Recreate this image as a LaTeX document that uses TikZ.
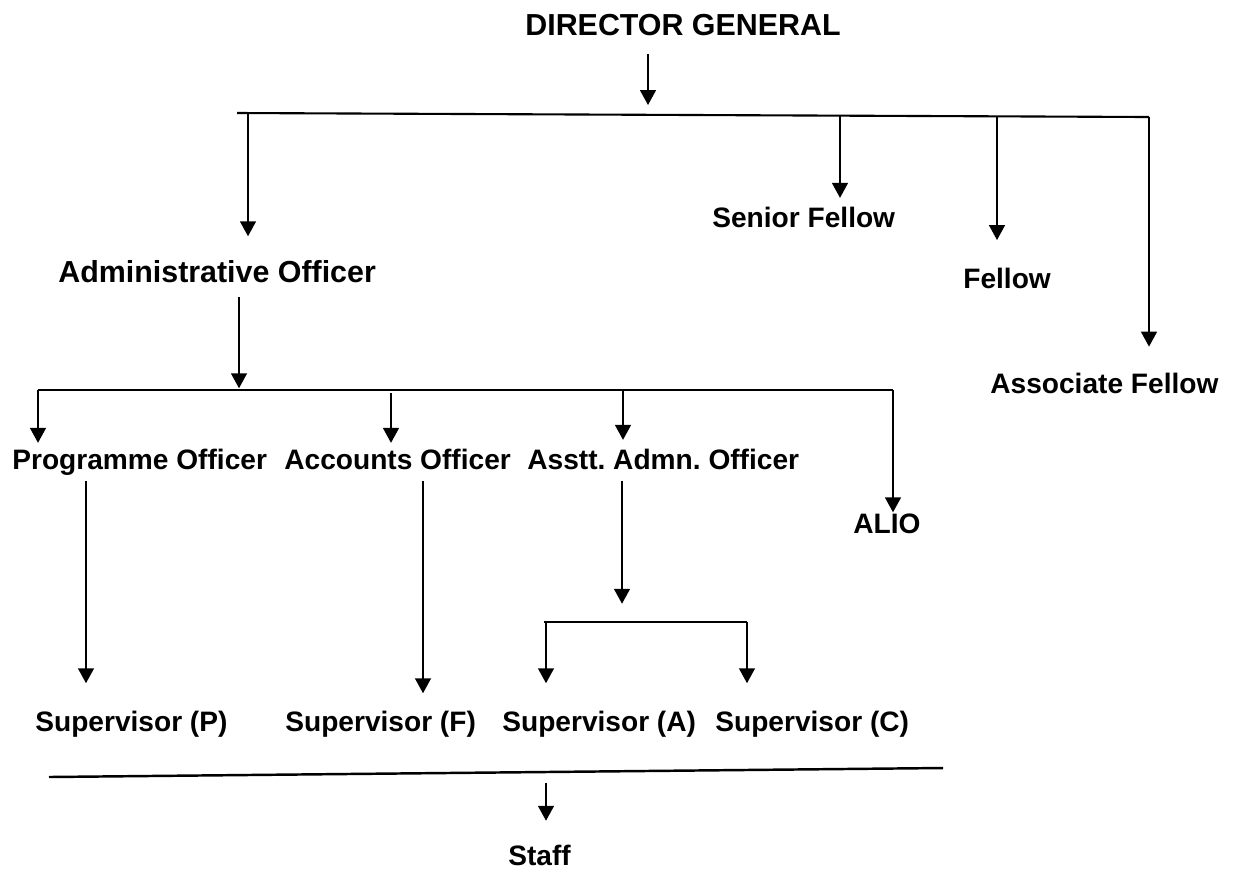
\documentclass[tikz,border=0pt]{standalone}
\usepackage{fontspec}
\setmainfont{Liberation Sans}
\usetikzlibrary{arrows.meta}
\frenchspacing
\tikzset{
  cargo/.style={anchor=base west, inner sep=0pt, font=\bfseries\fontsize{16}{19}\selectfont},
  cargogrande/.style={cargo, font=\bfseries\fontsize{17.3}{20}\selectfont},
  flecha/.style={-{Triangle[length=8.5pt,width=9pt]}, line width=1.1pt},
  linea/.style={line width=1.2pt}
}
\begin{document}
\begin{tikzpicture}[x=0.02cm,y=-0.02cm]
        \useasboundingbox (0,0) rectangle (1233,870);
        % Cargos
        \node[cargogrande, anchor=base] (dg) at (683,35) {DIRECTOR GENERAL};
        \node[cargogrande] (ao) at (58,282) {Administrative Officer};
        \node[cargo] (sf) at (712,227) {Senior Fellow};
        \node[cargo] (fe) at (963,288) {Fellow};
        \node[cargo] (af) at (990,393) {Associate Fellow};
        \node[cargo] (po) at (12,469) {Programme Officer};
        \node[cargo] (aco) at (284,469) {Accounts Officer};
        \node[cargo] (aao) at (527,469) {Asstt. Admn. Officer};
        \node[cargo] (alio) at (853,533) {ALIO};
        \node[cargo] (spp) at (35,731) {Supervisor (P)};
        \node[cargo] (spf) at (285,731) {Supervisor (F)};
        \node[cargo] (spa) at (502,731) {Supervisor (A)};
        \node[cargo] (spc) at (715,731) {Supervisor (C)};
        \node[cargo] (staff) at (508,865) {Staff};
        % Puntos de las lineas
        \coordinate (b1l) at (237,113);
        \coordinate (b1r) at (1149,117);
        \coordinate (b1dg) at (648,115);
        \coordinate (b1ao) at (248,113);
        \coordinate (b1sf) at (840,116);
        \coordinate (b1fe) at (997,117);
        \coordinate (b2l) at (38,390);
        \coordinate (b2r) at (893,390);
        \coordinate (b2ao) at (239,390);
        \coordinate (b2aco) at (391,393);
        \coordinate (b2aao) at (623,390);
        \coordinate (cpo) at (86,0);
        \coordinate (caco) at (423,0);
        \coordinate (b3aao) at (622,622);
        \coordinate (b3l) at (546,622);
        \coordinate (b3r) at (747,622);
        \coordinate (b4l) at (49,777);
        \coordinate (b4r) at (943,768);
        \coordinate (b4st) at (546,772);
        % Dibuja las lineas y flechas
        \draw[flecha, shorten <=10.4pt, shorten >=5.7pt] (dg.south -| b1dg) -- (b1dg);
        \draw[linea] (b1l) -- (b1r);
        \draw[flecha, shorten >=13.3pt] (b1ao) -- (b1ao |- ao.north);
        \draw[flecha, shorten >=4.8pt] (b1sf) -- (b1sf |- sf.north);
        \draw[flecha, shorten >=15.5pt] (b1fe) -- (b1fe |- fe.north);
        \draw[flecha, shorten >=14.6pt] (b1r) -- (b1r |- af.north);
        \draw[flecha, shorten <=8.3pt, shorten >=1pt] (ao.south -| b2ao) -- (b2ao);
        \draw[linea] (b2l) -- (b2r);
        \draw[flecha, shorten >=3.1pt] (b2l) -- (b2l |- po.north);
        \draw[flecha, shorten >=3.1pt] (b2aco) -- (b2aco |- aco.north);
        \draw[flecha, shorten >=4.8pt] (b2aao) -- (b2aao |- aao.north);
        \draw[flecha, shorten >=0.4pt] (b2r) -- (b2r |- alio.north);
        \draw[flecha, shorten <=3.3pt, shorten >=15.4pt] (po.south -| cpo) -- (spp.north -| cpo);
        \draw[flecha, shorten <=6.6pt, shorten >=9.7pt] (aco.south -| caco) -- (spf.north -| caco);
        \draw[flecha, shorten <=6.2pt, shorten >=10.4pt] (aao.south -| b3aao) -- (b3aao);
        \draw[linea] ([xshift=-0.05cm]b3l) -- (b3r);
        \draw[flecha, shorten >=15.4pt] (b3l) -- (b3l |- spa.north);
        \draw[flecha, shorten >=15.4pt] (b3r) -- (b3r |- spc.north);
        \draw[line width=1.4pt] (b4l) -- (b4r);
        \draw[flecha, shorten <=6.2pt, shorten >=13.4pt] (b4st) -- (b4st |- staff.north);
\end{tikzpicture}
\end{document}
